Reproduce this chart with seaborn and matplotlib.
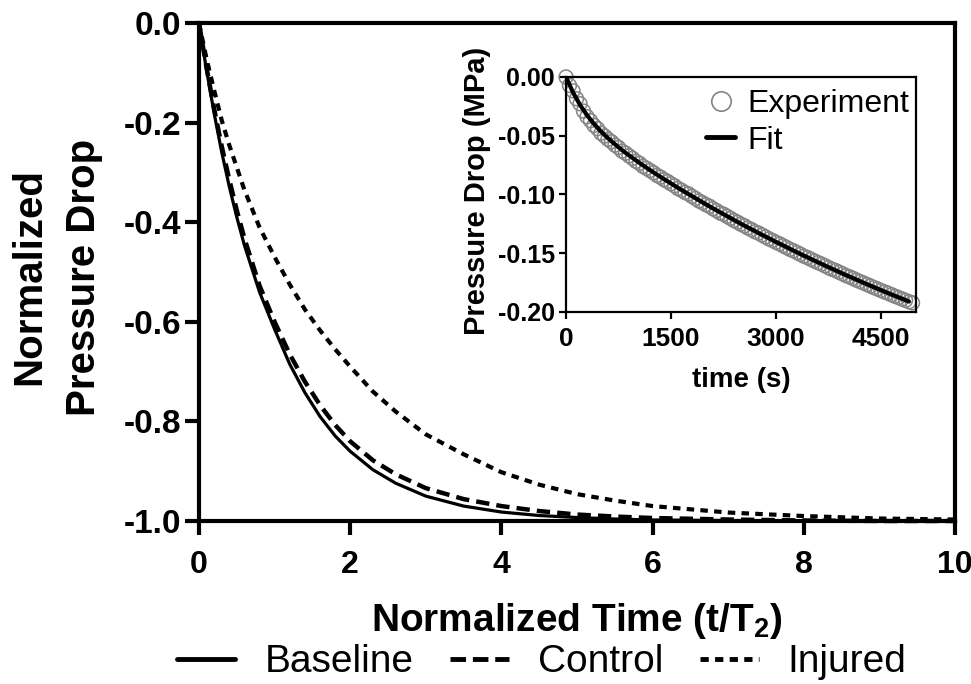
import matplotlib
matplotlib.use("Agg")
import matplotlib.pyplot as plt
import seaborn as sns
from matplotlib.lines import Line2D
from matplotlib.font_manager import FontProperties

# ---------------- data ----------------
t_norm = [0, 0.1, 0.2, 0.3, 0.4, 0.5, 0.6, 0.8, 1.0, 1.2, 1.4, 1.6, 1.8, 2.0,
          2.3, 2.6, 3.0, 3.5, 4.0, 4.5, 5.0, 5.5, 6.0, 7.0, 8.0, 9.0, 10.0]
baseline = [0, -0.095, -0.181, -0.259, -0.328, -0.390, -0.446, -0.540, -0.615,
            -0.685, -0.742, -0.790, -0.829, -0.860, -0.897, -0.924, -0.950,
            -0.970, -0.982, -0.989, -0.993, -0.996, -0.998, -0.999, -1.000,
            -1.000, -1.000]
control = [0, -0.090, -0.172, -0.247, -0.314, -0.376, -0.432, -0.527, -0.600,
           -0.665, -0.720, -0.767, -0.807, -0.840, -0.878, -0.906, -0.934,
           -0.956, -0.970, -0.980, -0.987, -0.991, -0.994, -0.997, -0.999,
           -1.000, -1.000]
injured = [0, -0.072, -0.135, -0.195, -0.245, -0.290, -0.335, -0.410, -0.470,
           -0.525, -0.575, -0.617, -0.655, -0.690, -0.740, -0.780, -0.826,
           -0.866, -0.902, -0.927, -0.946, -0.959, -0.970, -0.983, -0.990,
           -0.995, -0.997]
series_labels = ["Baseline", "Control", "Injured"]

inset_time = [0, 100, 200, 300, 400, 500, 600, 700, 800, 900, 1000, 1100, 1200,
              1300, 1400, 1500, 1600, 1700, 1800, 1900, 2000, 2100, 2200, 2300,
              2400, 2500, 2600, 2700, 2800, 2900, 3000, 3100, 3200, 3300, 3400,
              3500, 3600, 3700, 3800, 3900, 4000, 4100, 4200, 4300, 4400, 4500,
              4600, 4700, 4800, 4900]
fit_vals = [0, -0.0131, -0.0237, -0.0325, -0.0399, -0.0464, -0.0521, -0.0573,
            -0.0622, -0.0667, -0.0710, -0.0752, -0.0792, -0.0831, -0.0869,
            -0.0906, -0.0943, -0.0979, -0.1014, -0.1049, -0.1084, -0.1118,
            -0.1151, -0.1184, -0.1217, -0.1249, -0.1281, -0.1312, -0.1343,
            -0.1373, -0.1404, -0.1433, -0.1463, -0.1492, -0.1521, -0.1549,
            -0.1577, -0.1605, -0.1632, -0.1659, -0.1686, -0.1712, -0.1738,
            -0.1764, -0.1789, -0.1814, -0.1839, -0.1863, -0.1887, -0.1911]
exp_time = [0, 50, 100, 150, 200, 250, 300, 350, 400, 450, 500, 550, 600, 650,
            700, 750, 800, 850, 900, 950, 1000, 1050, 1100, 1150, 1200, 1250,
            1300, 1350, 1400, 1450, 1500, 1550, 1600, 1650, 1700, 1750, 1800,
            1850, 1900, 1950, 2000, 2050, 2100, 2150, 2200, 2250, 2300, 2350,
            2400, 2450, 2500, 2550, 2600, 2650, 2700, 2750, 2800, 2850, 2900,
            2950, 3000, 3050, 3100, 3150, 3200, 3250, 3300, 3350, 3400, 3450,
            3500, 3550, 3600, 3650, 3700, 3750, 3800, 3850, 3900, 3950, 4000,
            4050, 4100, 4150, 4200, 4250, 4300, 4350, 4400, 4450, 4500, 4550,
            4600, 4650, 4700, 4750, 4800, 4850, 4900, 4950]
exp_vals = [0, -0.0072, -0.0118, -0.0185, -0.0228, -0.0290, -0.0338, -0.0372,
            -0.0412, -0.0440, -0.0478, -0.0502, -0.0530, -0.0551, -0.0580,
            -0.0600, -0.0631, -0.0648, -0.0671, -0.0692, -0.0718, -0.0735,
            -0.0761, -0.0777, -0.0796, -0.0815, -0.0838, -0.0852, -0.0874,
            -0.0889, -0.0909, -0.0926, -0.0949, -0.0964, -0.0983, -0.0995,
            -0.1016, -0.1034, -0.1055, -0.1069, -0.1087, -0.1100, -0.1121,
            -0.1137, -0.1157, -0.1168, -0.1186, -0.1203, -0.1221, -0.1236,
            -0.1253, -0.1267, -0.1285, -0.1299, -0.1317, -0.1328, -0.1345,
            -0.1361, -0.1378, -0.1391, -0.1407, -0.1420, -0.1436, -0.1451,
            -0.1467, -0.1479, -0.1494, -0.1509, -0.1525, -0.1537, -0.1552,
            -0.1566, -0.1580, -0.1592, -0.1607, -0.1622, -0.1636, -0.1647,
            -0.1661, -0.1675, -0.1690, -0.1701, -0.1714, -0.1728, -0.1741,
            -0.1753, -0.1766, -0.1779, -0.1792, -0.1804, -0.1817, -0.1829,
            -0.1840, -0.1853, -0.1866, -0.1877, -0.1889, -0.1901, -0.1913,
            -0.1922]

main_xticks = [0, 2, 4, 6, 8, 10]
main_yticks = [-1.0, -0.8, -0.6, -0.4, -0.2, 0.0]
inset_xticks = [0, 1500, 3000, 4500]
inset_yticks = [-0.20, -0.15, -0.10, -0.05, 0.00]

# ---------------- style ----------------
sns.set_theme(style="ticks")
plt.rcParams["font.family"] = ["Liberation Sans", "DejaVu Sans"]
plt.rcParams["axes.unicode_minus"] = False
plt.rcParams["mathtext.default"] = "regular"
plt.rcParams["text.color"] = "black"
plt.rcParams["axes.labelcolor"] = "black"
plt.rcParams["xtick.color"] = "black"
plt.rcParams["ytick.color"] = "black"

fam = ["Liberation Sans", "DejaVu Sans"]

fig = plt.figure(figsize=(9.71, 6.84), dpi=100)
fig.patch.set_facecolor("white")

# ---------------- main axes ----------------
ax = fig.add_axes([0.20494, 0.23830, 0.77858, 0.72807])
ax.set_facecolor("white")

sns.lineplot(x=t_norm, y=baseline, ax=ax, color="black", lw=2.3,
             estimator=None, sort=False)
sns.lineplot(x=t_norm, y=control, ax=ax, color="black", lw=3.2,
             estimator=None, sort=False)
sns.lineplot(x=t_norm, y=injured, ax=ax, color="black", lw=3.0,
             estimator=None, sort=False)
l_base, l_ctrl, l_inj = ax.lines[-3:]
l_ctrl.set_dashes((3.0, 1.6))
l_inj.set_dashes((1.8, 1.5))
for ln in (l_base, l_ctrl, l_inj):
    ln.set_solid_capstyle("butt")
    ln.set_dash_capstyle("butt")
    ln.set_clip_on(False)

ax.set_xlim(0, 10)
ax.set_ylim(-1.0, 0.0)
ax.set_xticks(main_xticks, [str(v) for v in main_xticks],
              fontsize=23, fontweight="bold", family=fam)
ax.set_yticks(main_yticks, ["%.1f" % v for v in main_yticks],
              fontsize=24, fontweight="bold", family=fam)
for s in ax.spines.values():
    s.set_linewidth(3)
    s.set_color("black")
ax.tick_params(axis="both", direction="out", length=10, width=3,
               color="black", labelcolor="black")
ax.tick_params(axis="x", pad=11)
ax.tick_params(axis="y", pad=3)

ax.set_xlabel("Normalized Time (t/T$_2$)", fontsize=28, fontweight="bold",
              family=fam, color="black")
ax.xaxis.set_label_coords(0.5, -0.16)
ax.set_ylabel("Normalized\nPressure Drop", fontsize=29, fontweight="bold",
              family=fam, color="black", linespacing=1.55)
ax.yaxis.set_label_coords(-0.127, 0.49)

handles = [Line2D([], [], color="black", lw=3.5),
           Line2D([], [], color="black", lw=3.5, dashes=(3.2, 1.4)),
           Line2D([], [], color="black", lw=3.5, dashes=(1.7, 1.3))]
leg = fig.legend(handles, series_labels, loc="center",
                 bbox_to_anchor=(0.558, 0.032), ncol=3, frameon=False,
                 prop=FontProperties(family=fam, size=28),
                 handlelength=1.5, handletextpad=0.75, columnspacing=0.95,
                 borderpad=0, borderaxespad=0)
for txt in leg.get_texts():
    txt.set_color("black")

# ---------------- inset ----------------
axi = fig.add_axes([0.58290, 0.54386, 0.36046, 0.34357])
axi.set_facecolor("white")
sns.scatterplot(x=exp_time, y=exp_vals, ax=axi, marker="o", s=100,
                facecolor="none", edgecolor="#848484", linewidth=1.1,
                clip_on=False, zorder=2)
sns.lineplot(x=inset_time, y=fit_vals, ax=axi, color="black", lw=3.0,
             estimator=None, sort=False, zorder=3)
axi.set_xlim(0, 5000)
axi.set_ylim(-0.20, 0.0)
axi.set_xticks(inset_xticks, [str(v) for v in inset_xticks],
               fontsize=19, fontweight="bold", family=fam)
axi.set_yticks(inset_yticks, ["%.2f" % v for v in inset_yticks],
               fontsize=18, fontweight="bold", family=fam)
for s in axi.spines.values():
    s.set_linewidth(1.6)
    s.set_color("black")
axi.tick_params(axis="both", direction="out", length=5, width=1.6,
                color="black", labelcolor="black", pad=3)
axi.tick_params(axis="x", pad=6)
axi.set_xlabel("time (s)", fontsize=20, fontweight="bold", family=fam,
               color="black")
axi.xaxis.set_label_coords(0.5, -0.235)
axi.set_ylabel("Pressure Drop (MPa)", fontsize=21, fontweight="bold",
               family=fam, color="black")
axi.yaxis.set_label_coords(-0.215, 0.515)

ih = [Line2D([], [], marker="o", ls="none", mfc="none", mec="#848484",
             ms=14, mew=1.2),
      Line2D([], [], color="black", lw=3.5)]
ileg = axi.legend(ih, ["Experiment", "Fit"], loc="upper right",
                  bbox_to_anchor=(1.0, 0.975), frameon=False,
                  prop=FontProperties(family=fam, size=23),
                  handlelength=0.9, handletextpad=0.4, labelspacing=0.2,
                  borderaxespad=0.1, borderpad=0.1)
for txt in ileg.get_texts():
    txt.set_color("black")

fig.savefig("out.png", dpi=100, facecolor="white")
